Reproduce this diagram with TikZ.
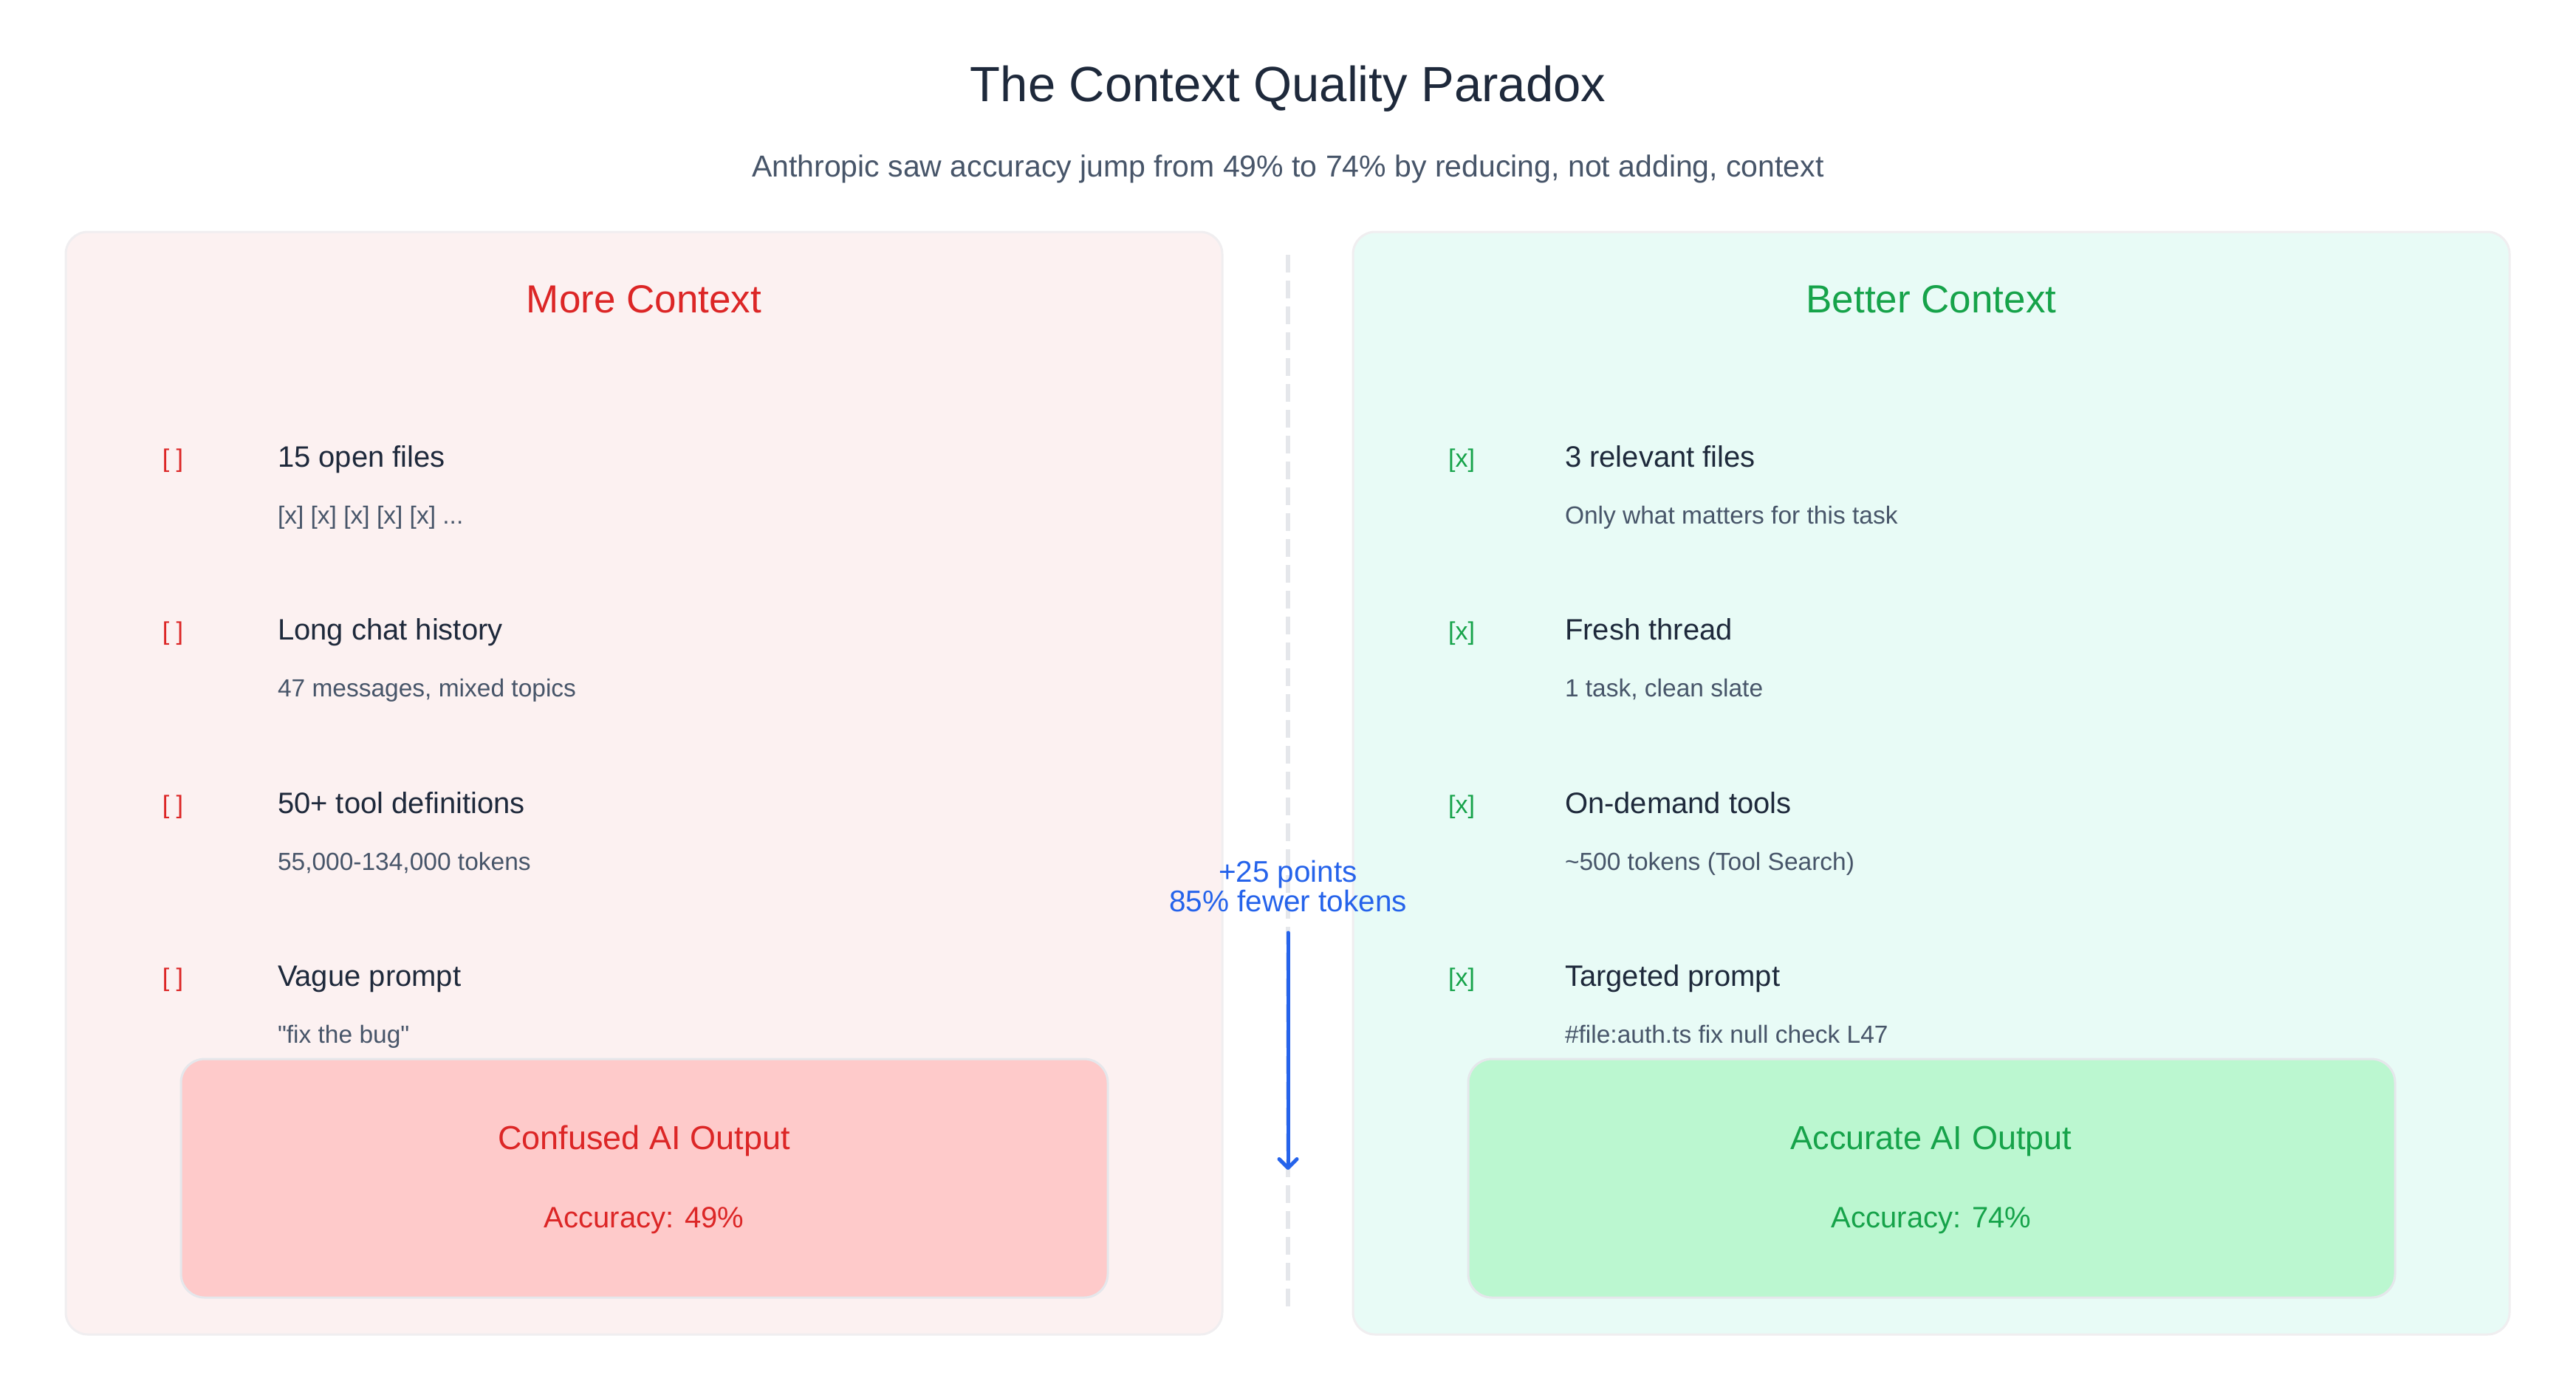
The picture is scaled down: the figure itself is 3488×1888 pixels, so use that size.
\documentclass[tikz,border=0pt]{standalone}
\usepackage{fontspec}
\setmainfont{Liberation Sans}[Ligatures=TeXOff]
\usetikzlibrary{arrows.meta}
\definecolor{cTitle}{HTML}{1E293B}
\definecolor{cSub}{HTML}{475569}
\definecolor{cRed}{HTML}{DC2626}
\definecolor{cGreen}{HTML}{16A34A}
\definecolor{cBlue}{HTML}{2563EB}
\definecolor{cDiv}{HTML}{E5E7EB}
\definecolor{cPanelL}{HTML}{FCF1F1}
\definecolor{cPanelR}{HTML}{E8FBF6}
\definecolor{cPanelB}{HTML}{F0EEF0}
\definecolor{cBoxL}{HTML}{FECACA}
\definecolor{cBoxR}{HTML}{BBF7D0}
\definecolor{cBoxB}{HTML}{E5E7EB}
\newcommand\fsz[1]{\fontsize{#1}{#1}\selectfont}
\tikzset{
  every node/.style={inner sep=0pt, outer sep=0pt},
  ttl/.style={anchor=base, text=cTitle, font=\fsz{67}},
  subt/.style={anchor=base, text=cSub, font=\fsz{41}},
  head/.style={anchor=base, font=\fsz{53}},
  chk/.style={anchor=base, font=\fsz{34}},
  lbl/.style={anchor=base west, text=cTitle, font=\fsz{40}},
  sublbl/.style={anchor=base west, text=cSub, font=\fsz{33.5}},
  boxt/.style={anchor=base, font=\fsz{45}},
  boxs/.style={anchor=base, font=\fsz{40}},
  panel/.style={draw=cPanelB, line width=3pt, rounded corners=30pt},
  outbox/.style={draw=cBoxB, line width=3pt, rounded corners=32pt},
  gain/.style={anchor=base, text=cBlue, font=\fsz{40.5}},
}
\begin{document}
\begin{tikzpicture}[x=1pt,y=-1pt]
\fill[white] (0,0) rectangle (3488,1888);
\useasboundingbox (0,0) rectangle (3488,1888);

% title
\node[ttl] (title) at (1744,137) {The Context Quality Paradox};
\node[subt] (subtitle) at (1744,239) {Anthropic saw accuracy jump from 49\% to 74\% by reducing, not adding, context};

% panels
\draw[panel, fill=cPanelL] (89,314) rectangle (1655,1807);
\draw[panel, fill=cPanelR] (1832,314) rectangle (3398,1807);

% divider
\coordinate (dTop) at (1744,345);
\coordinate (dBot) at (1744,1780);
\draw[cDiv, line width=6pt, dash pattern=on 24pt off 11pt] (dTop) -- (dBot);

% left panel
\node[head, text=cRed] (lhead) at (872,423) {More Context};
\node[chk, text=cRed] (lc1) at (234,632) {[ ]};
\node[lbl] (ll1) at (376,632) {15 open files};
\node[sublbl] (ls1) at (376,709) {[x] [x] [x] [x] [x] ...};
\node[chk, text=cRed] (lc2) at (234,866) {[ ]};
\node[lbl] (ll2) at (376,866) {Long chat history};
\node[sublbl] (ls2) at (376,943) {47 messages, mixed topics};
\node[chk, text=cRed] (lc3) at (234,1101) {[ ]};
\node[lbl] (ll3) at (376,1101) {50+ tool definitions};
\node[sublbl] (ls3) at (376,1178) {55,000-134,000 tokens};
\node[chk, text=cRed] (lc4) at (234,1335) {[ ]};
\node[lbl] (ll4) at (376,1335) {Vague prompt};
\node[sublbl] (ls4) at (376,1412) {"fix the bug"};

\draw[outbox, fill=cBoxL] (245,1434) rectangle (1500,1757);
\node[boxt, text=cRed] (lbt) at (872,1556) {Confused AI Output};
\node[boxs, text=cRed] (lbs) at (872,1662) {Accuracy: 49\%};

% right panel
\node[head, text=cGreen] (rhead) at (2615,423) {Better Context};
\node[chk, text=cGreen] (rc1) at (1979,632) {[x]};
\node[lbl] (rl1) at (2119,632) {3 relevant files};
\node[sublbl] (rs1) at (2119,709) {Only what matters for this task};
\node[chk, text=cGreen] (rc2) at (1979,866) {[x]};
\node[lbl] (rl2) at (2119,866) {Fresh thread};
\node[sublbl] (rs2) at (2119,943) {1 task, clean slate};
\node[chk, text=cGreen] (rc3) at (1979,1101) {[x]};
\node[lbl] (rl3) at (2119,1101) {On-demand tools};
\node[sublbl] (rs3) at (2119,1178) {\textasciitilde 500 tokens (Tool Search)};
\node[chk, text=cGreen] (rc4) at (1979,1335) {[x]};
\node[lbl] (rl4) at (2119,1335) {Targeted prompt};
\node[sublbl] (rs4) at (2119,1412) {\#file:auth.ts fix null check L47};

\draw[outbox, fill=cBoxR] (1988,1434) rectangle (3243,1757);
\node[boxt, text=cGreen] (rbt) at (2615,1556) {Accurate AI Output};
\node[boxs, text=cGreen] (rbs) at (2615,1662) {Accuracy: 74\%};

% gain arrow
\node[gain] (gain1) at (1744,1194) {+25 points};
\node[gain] (gain2) at (1744,1234) {85\% fewer tokens};
\coordinate (aTop) at (1744,1263);
\coordinate (aBot) at (1744,1584);
\draw[cBlue, line width=5pt, line cap=round, -{Straight Barb[length=12pt,width=24pt,round]}] (aTop) -- (aBot);
\end{tikzpicture}
\end{document}
